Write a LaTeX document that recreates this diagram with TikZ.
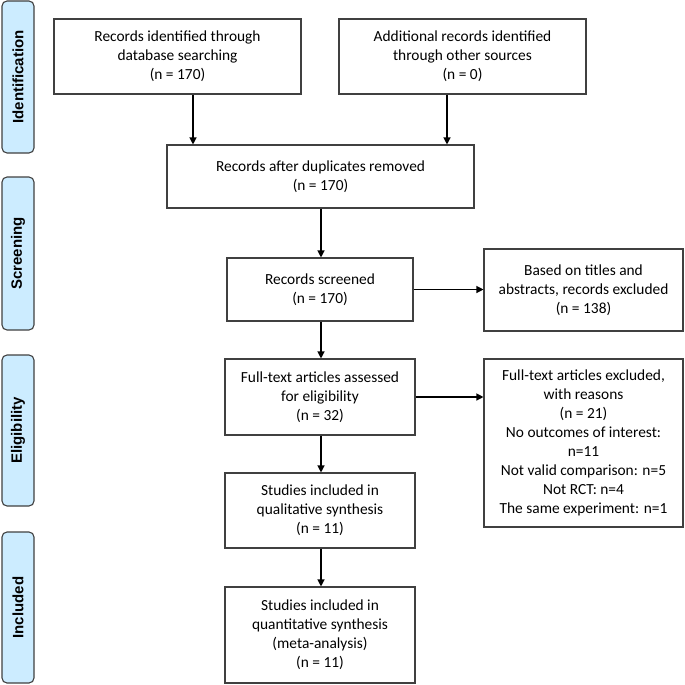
\documentclass[tikz,border=0pt]{standalone}
\usepackage{fontspec}
\setmainfont{Carlito}
\newfontfamily\labfont{Liberation Sans}
\usetikzlibrary{arrows.meta}
\definecolor{labfill}{RGB}{204,236,255}
\definecolor{boxline}{RGB}{64,64,64}
\tikzset{
  flowbox/.style={draw=boxline, line width=1.1pt, fill=white, align=center,
    inner sep=2pt, font=\fontsize{15.4}{19}\selectfont, text=black},
  phase/.style={draw=boxline, line width=1.1pt, fill=labfill, rounded corners=5pt,
    rotate=90, minimum height=32pt, inner sep=0pt,
    font=\labfont\bfseries\fontsize{15}{17}\selectfont},
  arr/.style={-{Triangle[length=7pt,width=7pt]}, line width=1.2pt, black}
}
\begin{document}
\begin{tikzpicture}[x=1pt,y=-1pt]
\useasboundingbox (0,0) rectangle (685,685);
% phase labels
\node[phase, minimum width=152pt] (pid) at (18,77) {Identification};
\node[phase, minimum width=153pt] (psc) at (18,253.5) {Screening};
\node[phase, minimum width=151pt] (pel) at (18,430.5) {Eligibility};
\node[phase, minimum width=151pt] (pin) at (18,607.5) {Included};
% boxes
\node[flowbox, minimum width=247pt, minimum height=75pt] (b1) at (177.5,56.5)
  {Records identified through\\database searching\\(n = 170)};
\node[flowbox, minimum width=247pt, minimum height=75pt] (b2) at (462.5,56.5)
  {Additional records identified\\through other sources\\(n = 0)};
\node[flowbox, minimum width=307pt, minimum height=63pt] (b3) at (320.5,176.5)
  {Records after duplicates removed\\(n = 170)};
\node[flowbox, minimum width=186pt, minimum height=63pt] (b4) at (320,289.5)
  {Records screened\\(n = 170)};
\node[flowbox, minimum width=199pt, minimum height=82pt] (b5) at (583.5,290)
  {Based on titles and\\abstracts, records excluded\\(n = 138)};
\node[flowbox, minimum width=190pt, minimum height=76pt] (b6) at (320,397)
  {Full-text articles assessed\\for eligibility\\(n = 32)};
\node[flowbox, minimum width=199pt, minimum height=168pt] (b7) at (583.5,443)
  {Full-text articles excluded,\\with reasons\\(n = 21)\\No outcomes of interest:\\n=11\\Not valid comparison: n=5\\Not RCT: n=4\\The same experiment: n=1};
\node[flowbox, minimum width=190pt, minimum height=75pt] (b8) at (320,510.5)
  {Studies included in\\qualitative synthesis\\(n = 11)};
\node[flowbox, minimum width=190pt, minimum height=96pt] (b9) at (320,635)
  {Studies included in\\quantitative synthesis\\(meta-analysis)\\(n = 11)};
% connectors
\coordinate (c1) at (193,0);
\coordinate (c2) at (447,0);
\coordinate (cm) at (321,0);
\draw[arr] (b1.south -| c1) -- (b3.north -| c1);
\draw[arr] (b2.south -| c2) -- (b3.north -| c2);
\draw[arr] (b3.south -| cm) -- (b4.north -| cm);
\draw[arr] (b4.south -| cm) -- (b6.north -| cm);
\draw[arr] (b6.south -| cm) -- (b8.north -| cm);
\draw[arr] (b8.south -| cm) -- (b9.north -| cm);
\draw[arr] (b4.east) -- (b5.west |- b4.east);
\draw[arr] (b6.east) -- (b7.west |- b6.east);
\end{tikzpicture}
\end{document}
